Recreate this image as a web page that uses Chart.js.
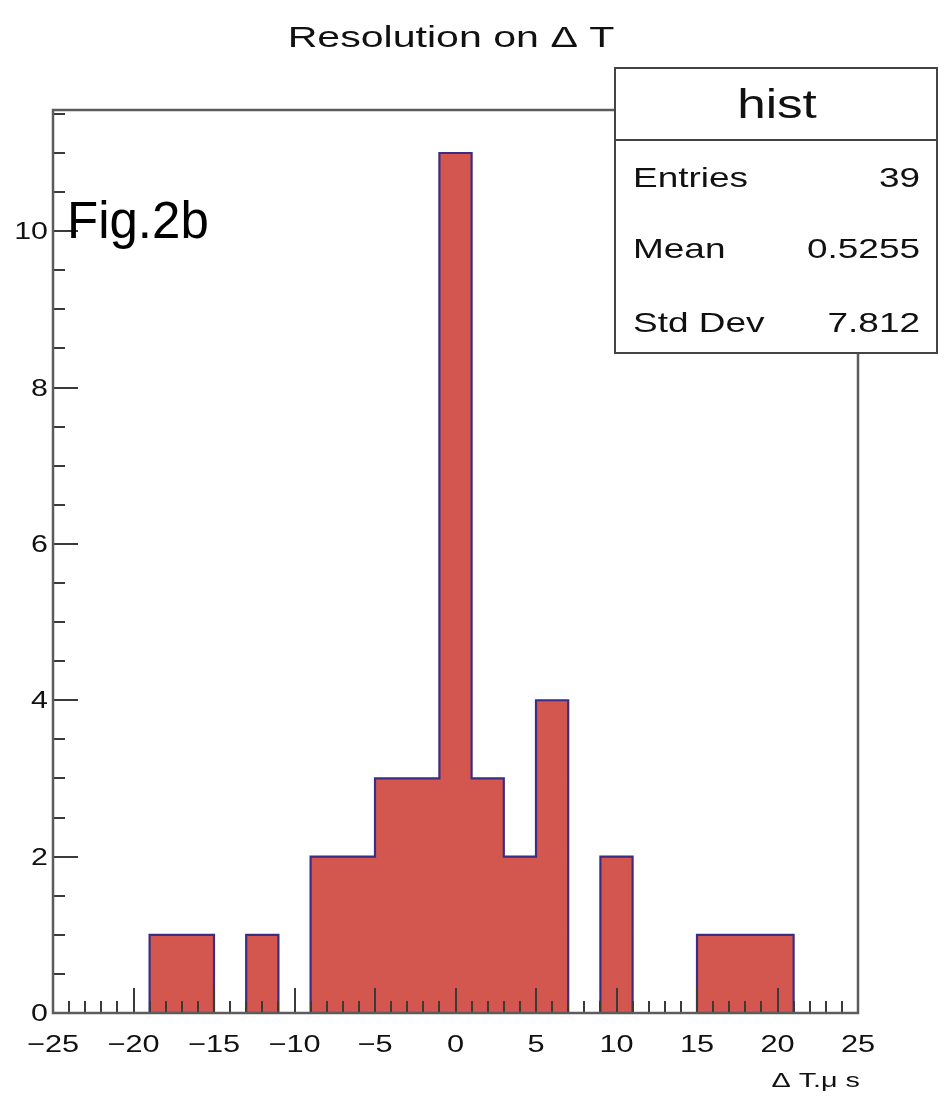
<!DOCTYPE html>
<html>
<head>
<meta charset="utf-8">
<script src="https://cdn.jsdelivr.net/npm/chart.js@4/dist/chart.umd.min.js"></script>
<style>
  html, body { margin: 0; padding: 0; background: #ffffff; }
  #wrap { width: 944px; height: 1097px; }
</style>
</head>
<body>
<div id="wrap"><canvas id="c" width="944" height="1097"></canvas></div>
<script>
// Histogram of the time difference, 2-unit bins from -25 to 25
const binLowEdges = [-25, -23, -21, -19, -17, -15, -13, -11, -9, -7, -5, -3, -1, 1, 3, 5, 7, 9, 11, 13, 15, 17, 19, 21, 23];
const binCounts   = [  0,   0,   0,   1,   1,   0,   1,   0,  2,  2,  3,  3, 11, 3, 2, 4, 0, 2,  0,  0,  1,  1,  1,  0,  0];
const histUpperEdge = 25;

// Axis ticks
const xTickValues = [-25, -20, -15, -10, -5, 0, 5, 10, 15, 20, 25];
const yTickValues = [0, 2, 4, 6, 8, 10];
const xRange = [-25, 25];
const yRange = [0, 11.55];

// Texts
const titleText = 'Resolution on \u0394 T';
const xAxisTitle = '\u0394 T.\u03bc s';
const panelLabel = 'Fig.2b';

// Statistics box
const statTitle = 'hist';
const statNames = ['Entries', 'Mean', 'Std Dev'];
const statValues = ['39', '0.5255', '7.812'];

const FONT = '"Liberation Sans", Arial, Helvetica, sans-serif';
const WIDE = 1.32;   // horizontal stretch of the ROOT-style lettering

// Step outline points: one per bin low edge, plus the closing upper edge
const stepPoints = binLowEdges.map((x, i) => ({ x: x, y: binCounts[i] }));
stepPoints.push({ x: histUpperEdge, y: 0 });

const fmtTick = v => (v < 0 ? '\u2212' + Math.abs(v) : String(v));

// Text drawn with a horizontal stretch around its anchor point
function wideText(ctx, text, x, y, size, align, sx) {
  ctx.save();
  ctx.translate(x, y);
  ctx.scale(sx, 1);
  ctx.font = size + 'px ' + FONT;
  ctx.textAlign = align;
  ctx.textBaseline = 'alphabetic';
  ctx.fillText(text, 0, 0);
  ctx.restore();
}

// ROOT-style frame with inward ticks, drawn over the filled histogram
const framePlugin = {
  id: 'rootFrame',
  afterDatasetsDraw(chart) {
    const { ctx, chartArea: a, scales: { x, y } } = chart;
    ctx.save();
    // ticks
    ctx.strokeStyle = '#3a3a3a';
    ctx.lineWidth = 2;
    ctx.beginPath();
    for (let v = xRange[0]; v <= xRange[1]; v += 1) {
      const px = Math.round(x.getPixelForValue(v));
      const len = (v % 5 === 0) ? 25 : 12;
      ctx.moveTo(px, a.bottom);
      ctx.lineTo(px, a.bottom - len);
    }
    for (let v = 0; v <= yRange[1] + 1e-9; v += 0.5) {
      const py = Math.round(y.getPixelForValue(v));
      const len = (Math.abs(v % 2) < 1e-9) ? 25 : 12;
      ctx.moveTo(a.left, py);
      ctx.lineTo(a.left + len, py);
    }
    ctx.stroke();
    // frame
    ctx.strokeStyle = '#5c5c5c';
    ctx.lineWidth = 2.5;
    ctx.strokeRect(a.left, a.top, a.right - a.left, a.bottom - a.top);
    ctx.restore();
  },
  afterDraw(chart) {
    const { ctx, chartArea: a, scales: { x, y } } = chart;
    ctx.save();
    ctx.fillStyle = '#111';

    // tick labels
    xTickValues.forEach(v => {
      wideText(ctx, fmtTick(v), x.getPixelForValue(v), 1052, 24, 'center', WIDE * 0.97);
    });
    yTickValues.forEach(v => {
      wideText(ctx, fmtTick(v), a.left - 5, y.getPixelForValue(v) + 8, 23, 'right', WIDE);
    });

    // title and axis title
    wideText(ctx, titleText, 451, 47, 30, 'center', 1.37);
    wideText(ctx, xAxisTitle, a.right + 2, 1087, 21, 'right', 1.37);

    // panel label
    ctx.fillStyle = '#000';
    wideText(ctx, panelLabel, 67, 238, 51, 'left', 1.0);

    // statistics box
    const bx = 615, by = 68, bw = 322, bh = 285, hy = 140;
    ctx.fillStyle = '#ffffff';
    ctx.fillRect(bx, by, bw, bh);
    ctx.strokeStyle = '#444';
    ctx.lineWidth = 2;
    ctx.strokeRect(bx, by, bw, bh);
    ctx.beginPath();
    ctx.moveTo(bx, hy);
    ctx.lineTo(bx + bw, hy);
    ctx.stroke();

    ctx.fillStyle = '#111';
    wideText(ctx, statTitle, bx + bw / 2 + 1, 118, 40, 'center', 1.28);

    const rowBase = [187, 258, 332];
    statNames.forEach((name, i) => {
      wideText(ctx, name, 633, rowBase[i], 28, 'left', WIDE);
      wideText(ctx, statValues[i], 920, rowBase[i], 28, 'right', WIDE);
    });
    ctx.restore();
  }
};

new Chart(document.getElementById('c'), {
  type: 'line',
  data: {
    datasets: [{
      data: stepPoints,
      stepped: 'before',
      fill: 'origin',
      backgroundColor: '#d4574f',
      borderColor: '#3c2d80',
      borderWidth: 2.2,
      pointRadius: 0,
      tension: 0
    }]
  },
  options: {
    responsive: false,
    animation: false,
    devicePixelRatio: 1,
    layout: { padding: { top: 110, right: 86, bottom: 0, left: 0 } },
    plugins: {
      legend: { display: false },
      tooltip: { enabled: false },
      title: { display: false }
    },
    scales: {
      x: {
        type: 'linear',
        min: xRange[0],
        max: xRange[1],
        afterBuildTicks: s => { s.ticks = xTickValues.map(v => ({ value: v })); },
        afterFit: s => { s.height = 84; },
        grid: { display: false },
        border: { display: false },
        ticks: { display: false }
      },
      y: {
        type: 'linear',
        min: yRange[0],
        max: yRange[1],
        afterBuildTicks: s => { s.ticks = yTickValues.map(v => ({ value: v })); },
        afterFit: s => { s.width = 53; },
        grid: { display: false },
        border: { display: false },
        ticks: { display: false }
      }
    }
  },
  plugins: [framePlugin]
});
</script>
</body>
</html>
